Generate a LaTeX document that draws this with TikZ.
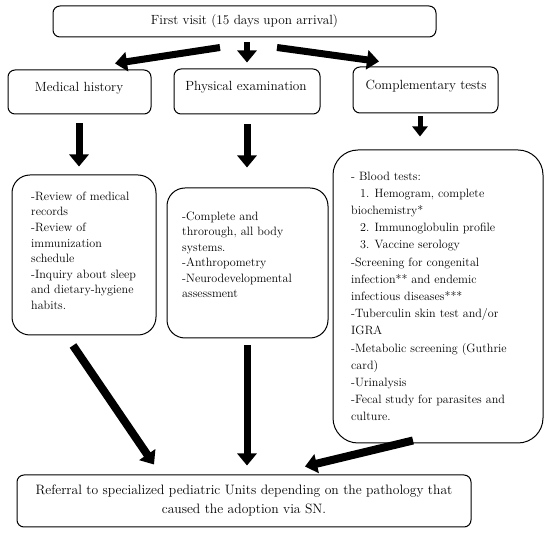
\documentclass[tikz,border=0pt]{standalone}
\usetikzlibrary{arrows.meta,calc}
\begin{document}
\begin{tikzpicture}[x=1pt,y=-1pt,
  box/.style={draw, line width=1pt, rounded corners=7pt, inner sep=0pt},
  cbox/.style={draw, line width=1pt, rounded corners=18pt, inner sep=0pt},
  lbl/.style={font=\fontsize{13.3}{19}\selectfont, inner sep=0pt, align=center},
  txt/.style={font=\fontsize{12.1}{15.6}\selectfont, align=left, anchor=north west, inner sep=0pt},
  arr/.style={line width=7pt, -{Triangle[length=12pt,width=19pt]}}
]
\useasboundingbox (0,0) rectangle (550,534);
% boxes
\node[box, minimum width=383pt, minimum height=31pt, lbl] (top) at (244.5,21.5) {First visit (15 days upon arrival)};
\node[box, minimum width=143pt, minimum height=44pt] (mh) at (79.5,92) {};
\node[box, minimum width=146pt, minimum height=45pt] (pe) at (247,91.5) {};
\node[box, minimum width=145pt, minimum height=46pt] (ct) at (425.5,90) {};
\node[lbl] (mhl) at (79,88) {Medical history};
\node[lbl] (pel) at (246,87) {Physical examination};
\node[lbl] (ctl) at (426,86) {Complementary tests};

\node[cbox, minimum width=144pt, minimum height=160pt] (mhc) at (84,255) {};
\node[cbox, minimum width=161pt, minimum height=150pt] (pec) at (247.5,263) {};
\node[cbox, rounded corners=25pt, minimum width=210pt, minimum height=293pt] (ctc) at (438,296.5) {};

\node[txt] (mht) at (31,191.5) {-Review of medical\\records\\-Review of\\immunization\\schedule\\-Inquiry about sleep\\and dietary-hygiene\\habits.};
\node[txt, font=\fontsize{12.1}{15.5}\selectfont] (pet) at (182,211.5) {-Complete and\\throrough, all body\\systems.\\-Anthropometry\\-Neurodevelopmental\\assessment};
\node[txt, font=\fontsize{12.1}{17.2}\selectfont] (ctt) at (351,171.5) {- Blood tests:\\\hspace*{9pt}1. Hemogram, complete\\biochemistry*\\\hspace*{9pt}2. Immunoglobulin profile\\\hspace*{9pt}3. Vaccine serology\\-Screening for congenital\\infection** and endemic\\infectious diseases***\\-Tuberculin skin test and/or\\IGRA\\-Metabolic screening (Guthrie\\card)\\-Urinalysis\\-Fecal study for parasites and\\culture.};

\node[box, minimum width=454pt, minimum height=52pt, lbl, font=\fontsize{13.6}{19}\selectfont] (ref) at (244,501) {Referral to specialized pediatric Units depending on the pathology that\\caused the adoption via SN.};

% arrows
\draw[arr] ($(top.south)+(-24.5,10)$) -- ($(mh.north)+(35.5,-6)$);
\draw[arr, line width=6pt] ($(top.south)+(2.5,5)$) -- ($(pe.north)+(0,-6)$);
\draw[arr] ($(top.south)+(32.5,10)$) -- ($(ct.north)+(-46.5,-5)$);
\draw[arr] ($(mh.south)+(-0.5,9)$) -- ($(mhc.north)+(-5,-8)$);
\draw[arr] ($(pe.south)+(0,10)$) -- ($(pec.north)+(-0.5,-20)$);
\draw[arr, line width=5pt, -{Triangle[length=10pt,width=15pt]}] ($(ct.south)+(-5.5,3)$) -- ($(ctc.north)+(-18,-13)$);
\draw[arr, line width=8pt] ($(mhc.south)+(-11,10)$) -- ($(ref.north)+(-90,-10)$);
\draw[arr] ($(pec.south)+(-0.5,7)$) -- ($(ref.north)+(3,-9)$);
\draw[arr, line width=8pt] ($(ctc.south)+(-25,-3)$) -- ($(ref.north)+(61,-8)$);
\end{tikzpicture}
\end{document}
